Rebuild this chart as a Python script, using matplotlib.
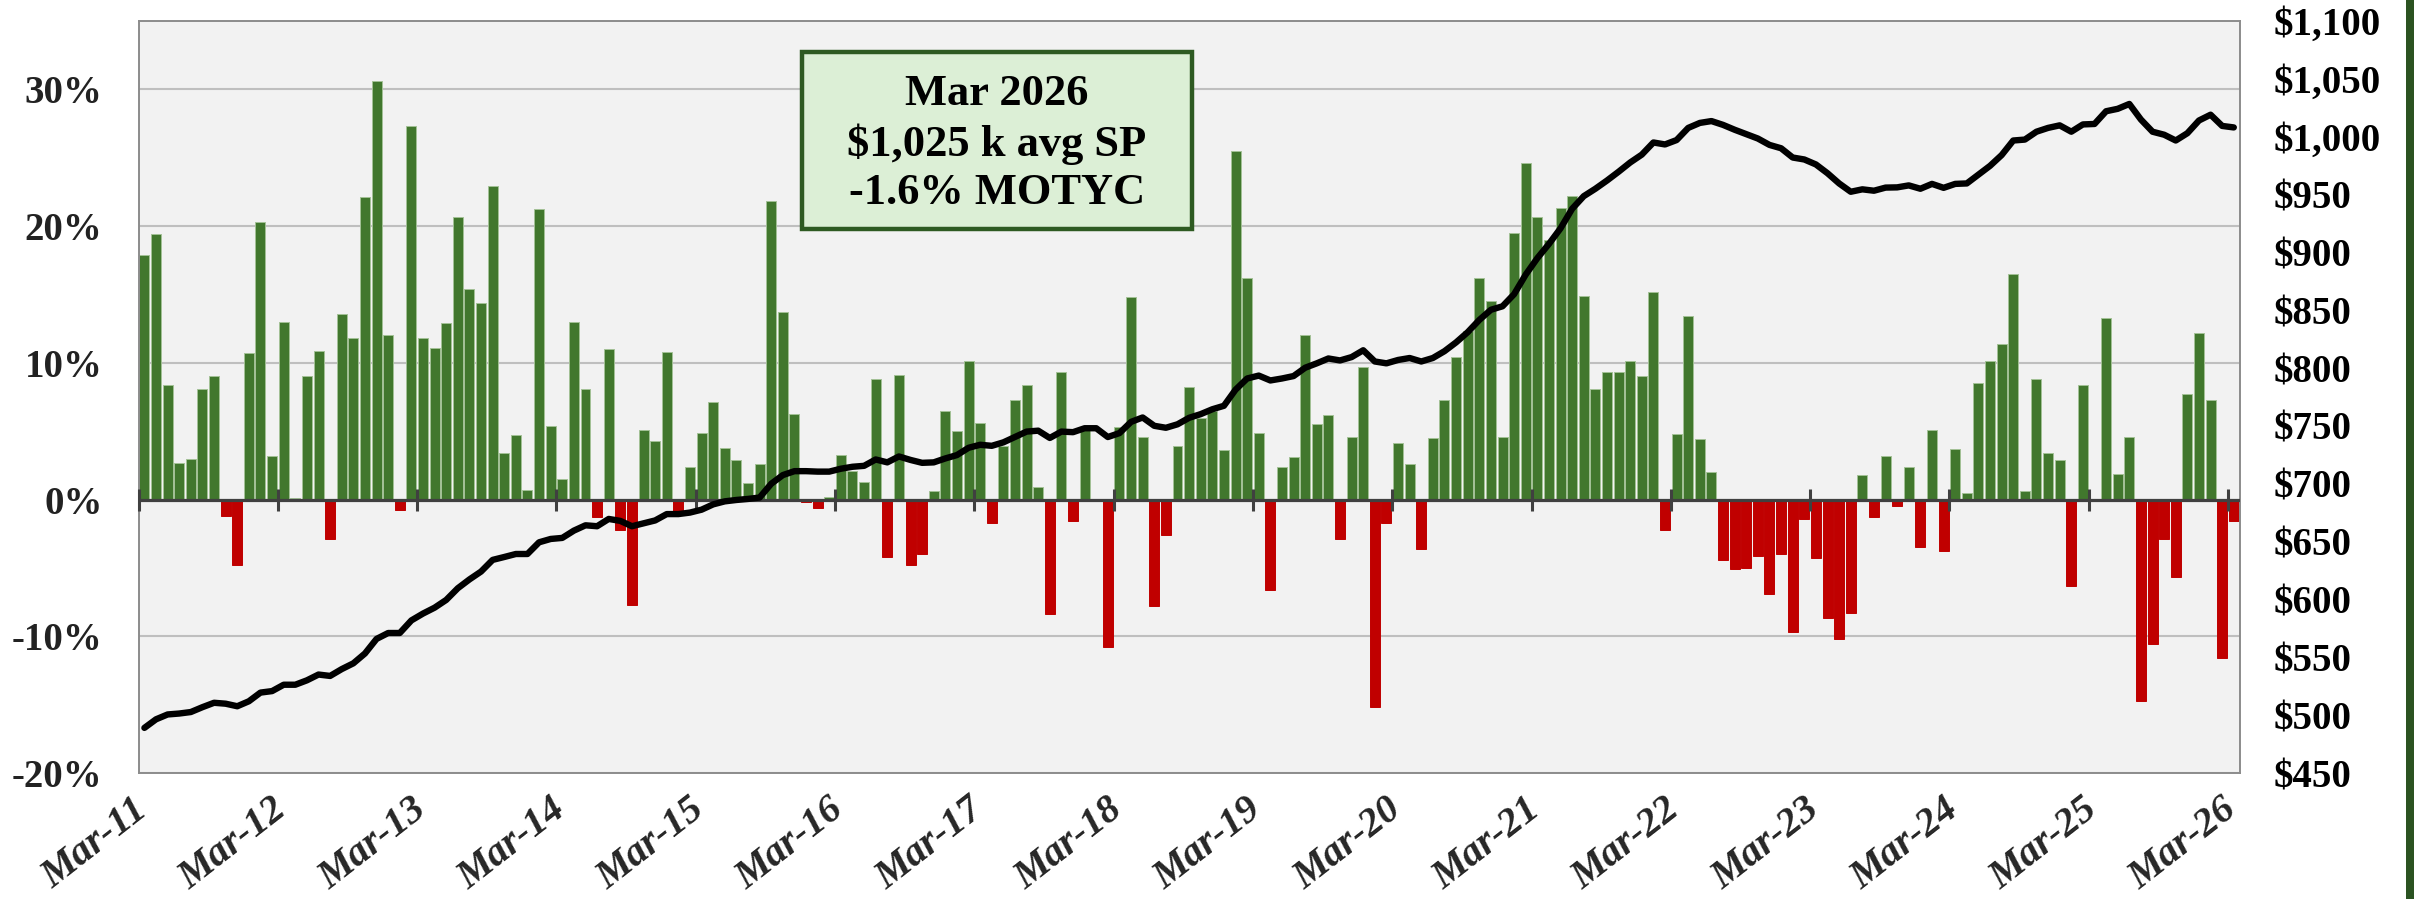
import matplotlib
matplotlib.use("Agg")
import matplotlib.pyplot as plt
import matplotlib.transforms as mtransforms
import numpy as np
from matplotlib.patches import Rectangle
from matplotlib.ticker import FuncFormatter

# Monthly change in median sale price vs. same month one year earlier (%), Mar-2011 .. Mar-2026
motyc = [
    17.9, 19.4, 8.4, 2.7, 3.0, 8.1, 9.0, -1.2, -4.8, 10.7, 20.3, 3.2, 13.0, 0.1, 9.0, 10.9,
    -2.9, 13.6, 11.8, 22.1, 30.6, 12.0, -0.8, 27.3, 11.8, 11.1, 12.9, 20.7, 15.4, 14.4, 22.9,
    3.4, 4.75, 0.7, 21.25, 5.4, 1.5, 13.0, 8.1, -1.3, 11.0, -2.2, -7.7, 5.1, 4.3, 10.8,
    -0.9, 2.4, 4.9, 7.1, 3.8, 2.9, 1.2, 2.6, 21.8, 13.7, 6.25, -0.15, -0.6, 0.2, 3.25,
    2.1, 1.3, 8.8, -4.2, 9.1, -4.8, -4.0, 0.6, 6.5, 5.0, 10.1, 5.6, -1.7, 3.9, 7.3,
    8.4, 0.9, -8.4, 9.3, -1.6, 5.2, 0.0, -10.75, 5.3, 14.8, 4.6, -7.75, -2.6, 3.9, 8.2,
    6.0, 6.5, 3.6, 25.5, 16.2, 4.9, -6.6, 2.4, 3.1, 12.0, 5.5, 6.2, -2.9, 4.6, 9.7,
    -15.2, -1.7, 4.1, 2.6, -3.6, 4.5, 7.3, 10.4, 12.3, 16.2, 14.5, 4.6, 19.5, 24.6, 20.7,
    19.0, 21.3, 22.2, 14.9, 8.1, 9.3, 9.3, 10.1, 9.0, 15.2, -2.2, 4.8, 13.4, 4.4, 2.0,
    -4.4, -5.1, -5.0, -4.1, -6.9, -4.0, -9.7, -1.4, -4.25, -8.7, -10.2, -8.3, 1.8, -1.3, 3.2,
    -0.5, 2.4, -3.5, 5.1, -3.75, 3.7, 0.5, 8.5, 10.1, 11.4, 16.5, 0.6, 8.8, 3.4, 2.9,
    -6.3, 8.4, 0.0, 13.25, 1.9, 4.6, -14.7, -10.6, -2.9, -5.7, 7.75, 12.2, 7.3, -11.6, -1.6,
]

# Smoothed average sale price ($ thousands), same months
avg_price = [
    489.0, 496.4, 500.6, 501.4, 502.7, 506.9, 510.7, 509.9, 507.7, 512.0, 519.5, 520.8, 526.3,
    526.3, 530.1, 535.1, 533.9, 539.8, 544.8, 553.3, 565.9, 571.0, 571.0, 581.9, 587.8, 592.9,
    599.6, 609.7, 617.3, 624.1, 634.2,
    636.7, 639.3, 639.3, 649.4, 652.3, 653.2, 659.5, 664.1, 663.3, 669.6, 667.9, 663.3, 665.8,
    668.3, 673.8, 673.8, 675.1, 677.6, 682.2, 684.8, 686.0, 686.9, 688.1, 700.0, 707.5, 710.9,
    710.9, 710.5, 710.5, 713.0,
    714.7, 715.5, 721.0, 718.5, 723.6, 720.6, 718.1, 718.5, 721.9, 724.8, 731.1, 733.7, 732.8,
    735.8, 740.4, 745.1, 745.9, 739.6, 745.1, 744.6, 748.0, 748.0, 740.4, 743.8, 753.5, 757.3,
    750.1, 748.4, 751.4, 757.0,
    760.2, 764.4, 767.4, 781.3, 791.0, 793.5, 789.3, 791.0, 793.1, 800.3, 804.1, 808.3, 806.6,
    809.5, 815.4, 805.7, 804.1, 807.0, 808.7, 805.7, 808.7, 814.6, 822.2, 831.0, 841.6, 850.4,
    853.4, 863.9, 880.8, 895.0,
    907.3, 920.8, 937.7, 948.6, 955.0, 962.1, 969.7, 977.7, 984.5, 995.0, 993.3, 997.1, 1007.6,
    1011.9, 1013.5, 1010.2, 1006.0, 1002.2, 998.4, 992.9, 990.0, 982.0, 980.3, 976.0, 968.4,
    959.6, 952.4, 954.5, 953.3, 956.0,
    956.2, 957.9, 955.0, 959.2, 955.8, 959.2, 959.6, 967.2, 974.8, 984.1, 996.7, 997.5, 1004.3,
    1007.6, 1009.8, 1004.3, 1010.6, 1011.0, 1022.0, 1024.1, 1028.3, 1014.8, 1004.3, 1001.7,
    996.7, 1003.0, 1014.0, 1019.0, 1009.3, 1008.0,
]

tick_labels = ["Mar-11", "Mar-12", "Mar-13", "Mar-14", "Mar-15", "Mar-16", "Mar-17", "Mar-18",
               "Mar-19", "Mar-20", "Mar-21", "Mar-22", "Mar-23", "Mar-24", "Mar-25", "Mar-26"]

callout = "Mar 2026\n\\$1,025 k avg SP\n-1.6% MOTYC"

GREEN = "#41772D"
RED = "#C00000"

plt.rcParams["font.family"] = ["Liberation Serif", "DejaVu Serif"]
plt.rcParams["font.weight"] = "bold"

W, H, DPI = 2414, 899, 100
fig = plt.figure(figsize=(W / DPI, H / DPI), dpi=DPI)
fig.patch.set_facecolor("white")

L, R, T, B = 138.6, 2239.6, 21.0, 773.0
ax = fig.add_axes([L / W, 1 - B / H, (R - L) / W, (B - T) / H])
ax.set_facecolor("#F2F2F2")

n = len(motyc)
x = np.arange(n)
vals = np.array(motyc)
bar_colors = [GREEN if v >= 0 else RED for v in vals]
edge_colors = ["#A3C196" if v >= 0 else RED for v in vals]
ax.bar(x, vals, width=0.86, color=bar_colors, edgecolor=edge_colors, linewidth=0.7, zorder=2)

ax.set_xlim(-0.5, n - 0.5)
ax.set_ylim(-20, 35)
ax.set_yticks(range(-20, 31, 10))
ax.yaxis.set_major_formatter(FuncFormatter(lambda v, p: f"{v:.0f}%"))
ax.tick_params(axis="y", length=0, pad=26, labelsize=28, labelcolor="#222222")
ax.grid(axis="y", color="#BFBFBF", linewidth=1.5)
ax.set_axisbelow(True)
ax.axhline(0, color="#404040", linewidth=2.3, zorder=3)

for s in ax.spines.values():
    s.set_color("#8C8C8C")
    s.set_linewidth(1.4)

# yearly category labels along the bottom
ax.set_xticks(x[::12])
ax.set_xticklabels(tick_labels, rotation=38, ha="right", va="top", rotation_mode="anchor",
                   fontsize=29, fontweight="bold", fontstyle="italic", color="#262626")
ax.tick_params(axis="x", length=0, pad=13)
shift = mtransforms.ScaledTranslation(-9 / 72, 0, fig.dpi_scale_trans)
for lab in ax.get_xticklabels():
    lab.set_transform(lab.get_transform() + shift)

# tick marks between categories on the zero line
sec = ax.secondary_xaxis(20 / 55)
sec.set_xticks(np.arange(-0.5, n, 12))
sec.tick_params(axis="x", direction="inout", length=16.5, width=2.2, color="#404040",
                labelbottom=False, labeltop=False)
for s in sec.spines.values():
    s.set_visible(False)
sec.set_zorder(4)

# average price line on the right axis
ax2 = ax.twinx()
ax2.set_ylim(450, 1100)
ax2.set_yticks(range(450, 1101, 50))
ax2.yaxis.set_major_formatter(FuncFormatter(lambda v, p: f"\\${v:,.0f}"))
ax2.tick_params(axis="y", length=0, pad=24.5, labelsize=28, labelcolor="black")
for s in ax2.spines.values():
    s.set_visible(False)
ax2.plot(x, avg_price, color="black", linewidth=4.6, solid_joinstyle="round",
         solid_capstyle="round", zorder=5)

# callout box
ax2.add_patch(Rectangle((0.3157, 0.723), 0.1859, 0.2354, transform=ax2.transAxes,
                        facecolor="#DCEFD6", edgecolor="#2E5A22", linewidth=3.2, zorder=6))
ax2.text(0.4086, 0.837, callout, transform=ax2.transAxes, ha="center", va="center",
         fontsize=32, fontweight="bold", linespacing=1.28, color="black", zorder=7)

# dark green edge on the right
fig.add_artist(Rectangle((2406 / W, 0), 8 / W, 1, transform=fig.transFigure,
                         facecolor="#2B5321", edgecolor="none"))

fig.savefig("out.png", dpi=DPI)
